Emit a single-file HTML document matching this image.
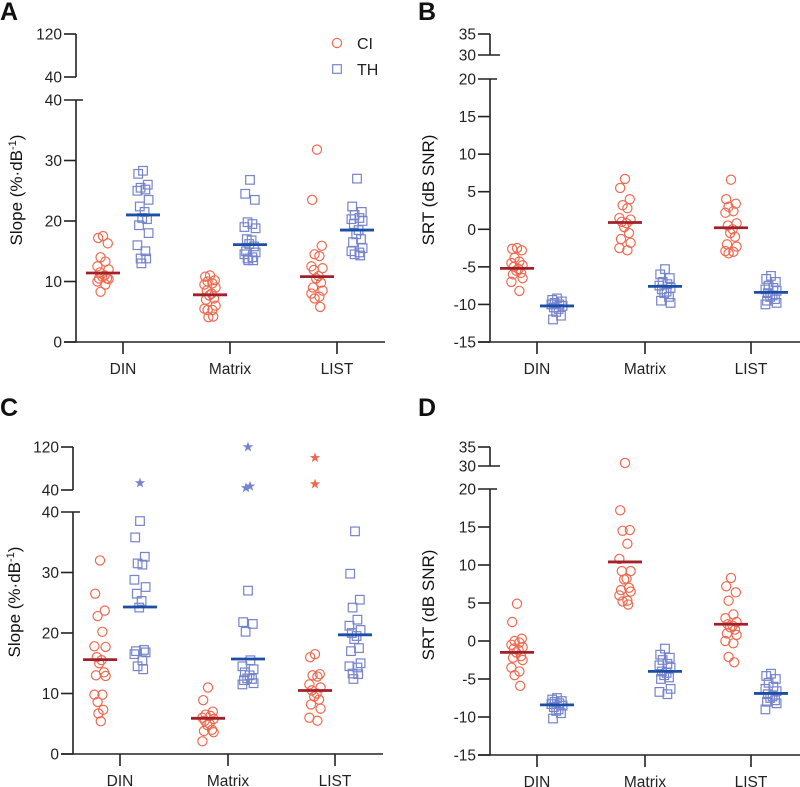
<!DOCTYPE html>
<html><head><meta charset="utf-8"><style>
html,body{margin:0;padding:0;background:#fff;}
svg{display:block;font-family:"Liberation Sans",Arial,sans-serif;}
</style></head><body>
<svg id="chart" width="800" height="787" viewBox="0 0 800 787"></svg>
<script>
// ---- data ----
const categories = ["DIN","Matrix","LIST"];
// Panel A (slope, pre)
const aCI = [[17.5,17.2,16.3,14,13.3,12.5,12,11.5,11,10.8,10.5,10.5,10.4,10,9.5,8.3],[11,10.8,10.2,10,9.7,9.5,9,8.5,8,7.7,7.2,7,6,5.5,5.3,5.3,4.2,4.1],[31.8,23.5,15.9,14.5,14.2,12.5,12.2,11.9,10.9,10.5,9.8,9,8.5,8,7.5,7.2,5.8]];
const aTH = [[28.3,27.8,26,25.5,25.2,25,23.5,22.4,21.5,20.5,20.3,19.3,18,16,15,13.8,13.8,13],[26.8,24.5,23.5,19.8,19.5,19,18.8,17,16.8,16.2,15.8,15,14.8,14.5,14,13.8,13.5,13.5],[27,22.4,21.5,21,20.5,20.3,20,19.5,18.5,17.8,17,16.5,15.5,15,14.8,14.5,14.3]];
const aMeanCI = [11.4,7.8,10.8];
const aMeanTH = [21,16.1,18.5];
// Panel B (SRT, pre)
const bCI = [[-2.5,-2.6,-2.8,-3.8,-4.3,-4.5,-4.8,-5,-5.3,-5.5,-5.8,-6,-6.5,-7,-8.2],[6.7,5.5,4,3.2,2.8,1.5,1.3,1,0.8,0.3,-0.5,-1.3,-1.8,-2.5,-2.8],[6.6,4,3.4,3,2.4,2.2,0.8,0.5,0,-0.5,-1,-2,-2.3,-2.9,-3,-3.2]];
const bTH = [[-9.2,-9.4,-9.6,-9.8,-10,-10,-10.2,-10.4,-10.6,-11,-11.5,-12],[-5.3,-6,-6.5,-7,-7.3,-7.5,-7.8,-8,-8.3,-8.5,-9,-9.5,-9.8],[-6.2,-6.6,-7,-7.5,-7.8,-8,-8.2,-8.5,-8.8,-9,-9.3,-9.5,-9.8,-10]];
const bMeanCI = [-5.2,0.9,0.2];
const bMeanTH = [-10.2,-7.6,-8.4];
// Panel C (slope, post)
const cCI = [[32,26.5,23.7,22.8,20.2,17.8,17.7,16,15.5,15,13.5,13,12.9,9.8,9.8,8.6,7.3,6.7,5.4],[11,8.9,7,6.5,6.3,6,5.8,5.5,5,4.8,4,3.8,3.6,2.1],[16.5,16,13.2,13,12.8,11.5,11,10.5,10,9.5,9,8.2,7.5,6,5.5]];
const cTH = [[38.5,35.8,32.6,31.5,31.3,28.8,27.6,26.5,25.3,24.2,17.2,17,16.8,16.5,15.5,14.5,14],[27,21.8,21.5,20.2,15.5,14.5,14,13.5,13,12.5,12.4,12.2,11.7,11.5],[36.8,29.8,25.5,24.2,22.2,21.2,20.5,20,19.5,19,17.5,17,15,14.5,14.3,13.3,13.2,12.4]];
const cMeanCI = [15.6,5.9,10.5];
const cMeanTH = [24.3,15.7,19.7];
const cStarCI = [[],[],[100,51]];
const cStarTH = [[53],[120,44,47],[]];
// Panel D (SRT, post)
const dCI = [[4.9,2.5,0.3,0,-0.2,-0.5,-0.8,-1,-1.2,-1.5,-2,-2.2,-2.5,-3.5,-4,-4.5,-5.9],[30.8,17.2,14.6,14.5,12.8,10.8,9.2,9.2,8.2,8.1,7,6.7,6.5,6,5.3,5.2,4.8],[8.3,7.2,6.4,5.3,3.5,3,2.5,2.2,2,1.8,1.5,1,0.8,0,-0.3,-2.1,-2.8]];
const dTH = [[-7.5,-7.7,-7.9,-8,-8.2,-8.3,-8.5,-8.7,-9,-9.2,-9.5,-10.2],[-1,-1.8,-2.2,-2.5,-3,-3.2,-3.5,-4,-4.2,-4.5,-4.8,-5,-6.3,-6.7,-7],[-4.3,-4.6,-5,-5.5,-6,-6.3,-6.6,-7,-7.3,-7.5,-7.8,-8,-8.2,-9]];
const dMeanCI = [-1.5,10.4,2.2];
const dMeanTH = [-8.4,-4,-6.9];
const slopeLowTicks = [0,10,20,30,40];
const slopeHighTicks = [40,120];
const srtLowTicks = [-15,-10,-5,0,5,10,15,20];
const srtHighTicks = [30,35];

const NS = "http://www.w3.org/2000/svg";
const svg = document.getElementById('chart');
const CI_COL = "#f0694f", TH_COL = "#7584cc", CI_MEAN = "#a1202a", TH_MEAN = "#1b4ea6";
function mk(tag, attrs, parent){ const e=document.createElementNS(NS,tag); for(const k in attrs) e.setAttribute(k,attrs[k]); (parent||svg).appendChild(e); return e; }
const jit = [0,-6,6,-3,3,-7,7,-4,2,-1,5,-5,7,-7,3,-3,4,-2,1,-8];

function panel(cfg){
  const g = mk('g',{});
  
  
  const L = cfg.low, H = cfg.high;
  const yl = v => L.y0 + (v-L.min)/(L.max-L.min)*(L.y1-L.y0);
  const yh = v => H.y0 + (v-H.min)/(H.max-H.min)*(H.y1-H.y0);
  const yv = v => v <= L.max ? yl(v) : yh(v);
  const xc = i => cfg.cx[i];
  const ax = cfg.ax;
  const lt = mk('text',{x:cfg.lx,y:cfg.ly,'font-size':25,'font-weight':'bold',fill:'#111'},g); lt.textContent=cfg.letter;
  
  
  const yaxis = mk('g',{},g);
  
  
  mk('line',{x1:ax,x2:ax,y1:yl(L.max),y2:yl(L.min),stroke:'#222','stroke-width':1.6},yaxis);
  mk('line',{x1:ax,x2:ax,y1:yh(H.max),y2:yh(H.min),stroke:'#222','stroke-width':1.6},yaxis);
  const tickRow = (v, y, right) => {
    mk('line',{x1:ax-12,x2:ax+right,y1:y,y2:y,stroke:'#222','stroke-width':1.6},yaxis);
    const t = mk('text',{x:ax-14,y:y+5.5,'font-size':15.5,'text-anchor':'end',fill:'#222'},yaxis); t.textContent=v;
    
    
  };
  cfg.lowTicks.forEach(v=>tickRow(v, yl(v), v===L.max?7:0));
  cfg.highTicks.forEach((v,i)=>tickRow(v, yh(v), (cfg.srt && i===0)?10:0));
  const yt = mk('text',{x:0,y:0,'font-size':17,'text-anchor':'middle',fill:'#111',transform:`translate(${cfg.tx},${cfg.ty}) rotate(-90)`},g);
  yt.innerHTML = cfg.title;
  
  
  const xaxis = mk('g',{},g);
  
  
  const y0 = yl(L.min);
  mk('line',{x1:ax-12,x2:cfg.xend,y1:y0,y2:y0,stroke:'#222','stroke-width':1.6},xaxis);
  categories.forEach((c,i)=>{
    mk('line',{x1:xc(i),x2:xc(i),y1:y0,y2:y0+12,stroke:'#222','stroke-width':1.6},xaxis);
    const t=mk('text',{x:xc(i),y:y0+32,'font-size':15.5,'text-anchor':'middle',fill:'#222'},xaxis); t.textContent=c;
    
    
  });
  categories.forEach((c,i)=>{
    cfg.ci[i].forEach((v,j)=>{
      const p=mk('circle',{cx:xc(i)-20+jit[j%jit.length]*0.8,cy:yv(v),r:4.6,fill:'none',stroke:CI_COL,'stroke-width':1.2},g);
      
      
    });
    cfg.th[i].forEach((v,j)=>{
      const p=mk('rect',{x:xc(i)+20+jit[j%jit.length]*0.8-4.3,y:yv(v)-4.3,width:8.6,height:8.6,fill:'none',stroke:TH_COL,'stroke-width':1.2},g);
      
      
    });
    const star = (x,v,col)=>{
      const y=yh(v); let d='';
      for(let k=0;k<10;k++){const r=k%2?2.2:5.5;const a=-Math.PI/2+k*Math.PI/5;d+=(k?'L':'M')+(x+r*Math.cos(a)).toFixed(1)+','+(y+r*Math.sin(a)).toFixed(1);}
      const s=mk('path',{d:d+'Z',fill:col},g);
      
      
    };
    if(cfg.starCI) cfg.starCI[i].forEach((v,j)=>star(xc(i)-20,v,CI_COL));
    if(cfg.starTH) cfg.starTH[i].forEach((v,j)=>star(xc(i)+20+(j===1?-2:j===2?2:0),v,TH_COL));
    const m1=mk('line',{x1:xc(i)-37,x2:xc(i)-3,y1:yv(cfg.mci[i]),y2:yv(cfg.mci[i]),stroke:CI_MEAN,'stroke-width':2.8},g);
    
    
    const m2=mk('line',{x1:xc(i)+3,x2:xc(i)+37,y1:yv(cfg.mth[i]),y2:yv(cfg.mth[i]),stroke:TH_MEAN,'stroke-width':2.8},g);
    
    
  });
}
const slopeTitle = 'Slope (%·dB<tspan dy="-6" font-size="11">-1</tspan><tspan dy="6">)</tspan>';
panel({name:'panel-a',letter:'A',lx:0,ly:20,ax:76,cx:[123,230,337],xend:385,
  low:{min:0,max:40,y0:342,y1:100},high:{min:40,max:120,y0:77,y1:34},
  lowTicks:slopeLowTicks,highTicks:slopeHighTicks,title:slopeTitle,tx:22,ty:190,
  ci:aCI,th:aTH,mci:aMeanCI,mth:aMeanTH});
panel({name:'panel-b',letter:'B',lx:418,ly:20,ax:490,cx:[537,645,751],xend:800,srt:true,
  low:{min:-15,max:20,y0:342,y1:79},high:{min:30,max:35,y0:55,y1:34},
  lowTicks:srtLowTicks,highTicks:srtHighTicks,title:'SRT (dB SNR)',tx:434,ty:190,
  ci:bCI,th:bTH,mci:bMeanCI,mth:bMeanTH});
panel({name:'panel-c',letter:'C',lx:0,ly:416,ax:73,cx:[120,228,335],xend:383,
  low:{min:0,max:40,y0:754,y1:512},high:{min:40,max:120,y0:490,y1:447},
  lowTicks:slopeLowTicks,highTicks:slopeHighTicks,title:slopeTitle,tx:20,ty:602,
  ci:cCI,th:cTH,mci:cMeanCI,mth:cMeanTH,starCI:cStarCI,starTH:cStarTH});
panel({name:'panel-d',letter:'D',lx:418,ly:416,ax:490,cx:[537,645,751],xend:800,srt:true,
  low:{min:-15,max:20,y0:755,y1:489},high:{min:30,max:35,y0:466,y1:447},
  lowTicks:srtLowTicks,highTicks:srtHighTicks,title:'SRT (dB SNR)',tx:434,ty:605,
  ci:dCI,th:dTH,mci:dMeanCI,mth:dMeanTH});
const lg = mk('g',{});


const lc=mk('circle',{cx:337,cy:43,r:4.6,fill:'none',stroke:CI_COL,'stroke-width':1.2},lg);


const lt1=mk('text',{x:357,y:49,'font-size':16,fill:'#222'},lg); lt1.textContent='CI';


const ls=mk('rect',{x:332.7,y:64.7,width:8.6,height:8.6,fill:'none',stroke:TH_COL,'stroke-width':1.2},lg);


const lt2=mk('text',{x:357,y:75,'font-size':16,fill:'#222'},lg); lt2.textContent='TH';


</script>
</body></html>
